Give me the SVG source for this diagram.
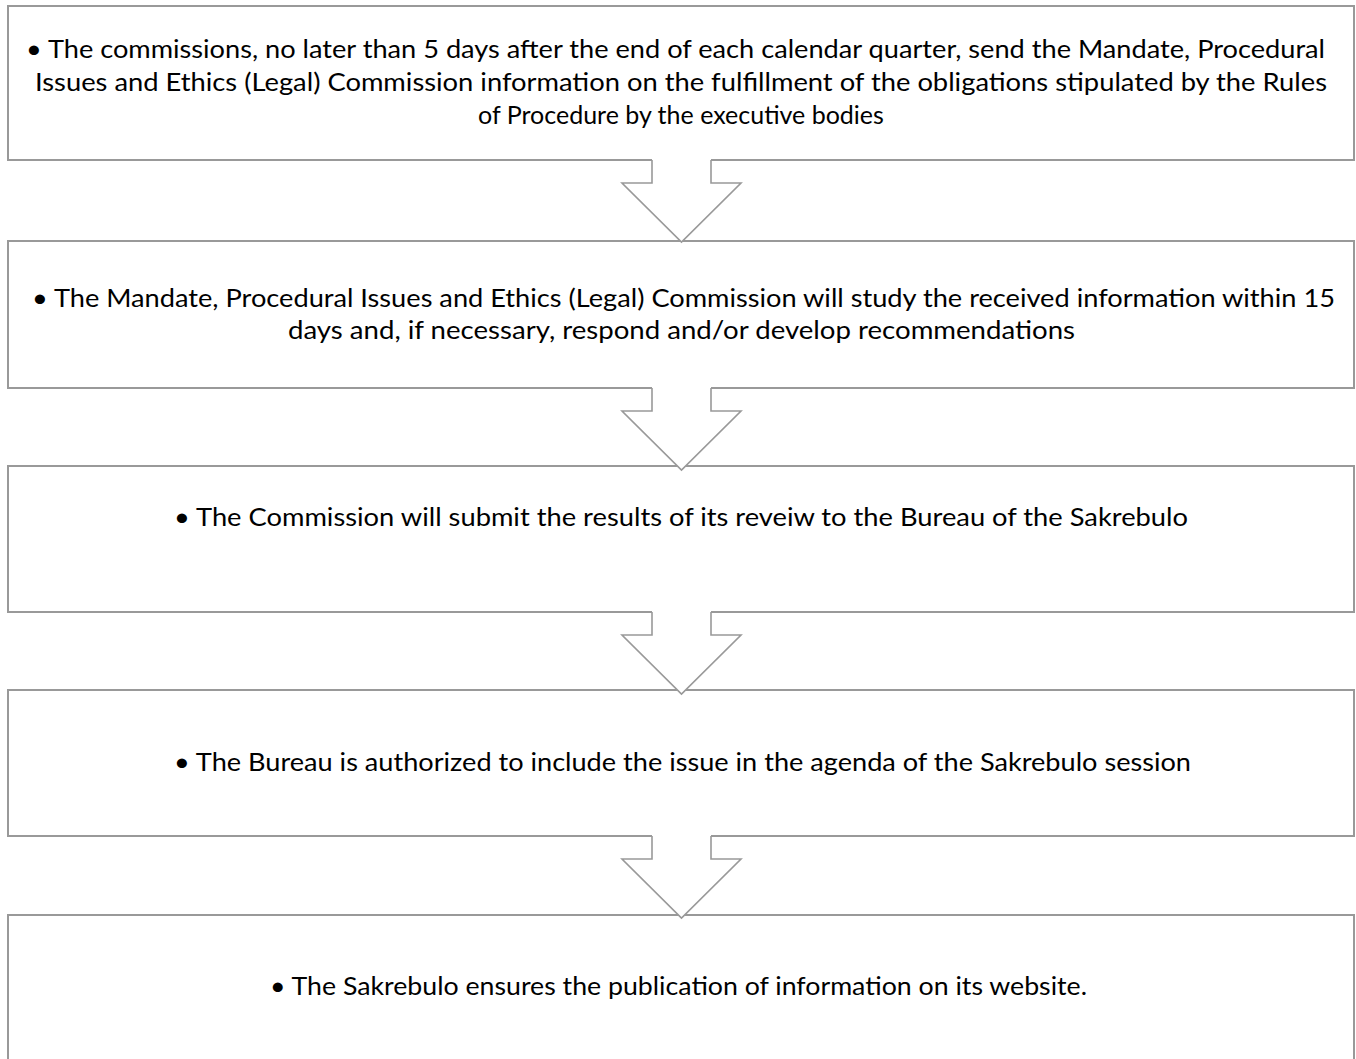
<svg xmlns="http://www.w3.org/2000/svg" width="1356" height="1059" viewBox="0 0 1356 1059">
  <style>
    .box { fill: #ffffff; stroke: #999999; stroke-width: 2; }
    .arrow-fill { fill: #ffffff; stroke: none; }
    .arrow-line { fill: none; stroke: #999999; stroke-width: 1.6; stroke-linejoin: miter; }
    .label { font-family: "Lato", "Liberation Sans", sans-serif; font-size: 25px; fill: #000000; text-anchor: middle; }
  </style>
  <rect width="1356" height="1059" fill="#ffffff"/>

  <g id="step1">
    <rect class="box" x="8" y="6" width="1346" height="154"/>
    <text class="label" x="675.5" y="58" textLength="1299" lengthAdjust="spacingAndGlyphs">• The commissions, no later than 5 days after the end of each calendar quarter, send the Mandate, Procedural</text>
    <text class="label" x="681" y="91" textLength="1292" lengthAdjust="spacingAndGlyphs">Issues and Ethics (Legal) Commission information on the fulfillment of the obligations stipulated by the Rules</text>
    <text class="label" x="681" y="124">of Procedure by the executive bodies</text>
  </g>

  <g id="step2">
    <rect class="box" x="8" y="241" width="1346" height="147"/>
    <text class="label" x="683.5" y="307" textLength="1303" lengthAdjust="spacingAndGlyphs">• The Mandate, Procedural Issues and Ethics (Legal) Commission will study the received information within 15</text>
    <text class="label" x="681.5" y="339" textLength="787" lengthAdjust="spacingAndGlyphs">days and, if necessary, respond and/or develop recommendations</text>
  </g>

  <g id="step3">
    <rect class="box" x="8" y="466" width="1346" height="146"/>
    <text class="label" x="681" y="526" textLength="1014" lengthAdjust="spacingAndGlyphs">• The Commission will submit the results of its reveiw to the Bureau of the Sakrebulo</text>
  </g>

  <g id="step4">
    <rect class="box" x="8" y="690" width="1346" height="146"/>
    <text class="label" x="682.5" y="771" textLength="1017" lengthAdjust="spacingAndGlyphs">• The Bureau is authorized to include the issue in the agenda of the Sakrebulo session</text>
  </g>

  <g id="step5">
    <rect class="box" x="8" y="915" width="1346" height="200"/>
    <text class="label" x="678.5" y="995" textLength="817" lengthAdjust="spacingAndGlyphs">• The Sakrebulo ensures the publication of information on its website.</text>
  </g>

  <!-- hollow block arrows joining consecutive steps -->
  <g id="connectors">
    <g transform="translate(0,160)">
      <path class="arrow-fill" d="M652,-2 V23 H622 L681.5,82 L741,23 H711 V-2 Z"/>
      <path class="arrow-line" d="M652,0 V23 H622 L681.5,82 L741,23 H711 V0"/>
    </g>
    <g transform="translate(0,388)">
      <path class="arrow-fill" d="M652,-2 V23 H622 L681.5,82 L741,23 H711 V-2 Z"/>
      <path class="arrow-line" d="M652,0 V23 H622 L681.5,82 L741,23 H711 V0"/>
    </g>
    <g transform="translate(0,612)">
      <path class="arrow-fill" d="M652,-2 V23 H622 L681.5,82 L741,23 H711 V-2 Z"/>
      <path class="arrow-line" d="M652,0 V23 H622 L681.5,82 L741,23 H711 V0"/>
    </g>
    <g transform="translate(0,836)">
      <path class="arrow-fill" d="M652,-2 V23 H622 L681.5,82 L741,23 H711 V-2 Z"/>
      <path class="arrow-line" d="M652,0 V23 H622 L681.5,82 L741,23 H711 V0"/>
    </g>
  </g>
</svg>
